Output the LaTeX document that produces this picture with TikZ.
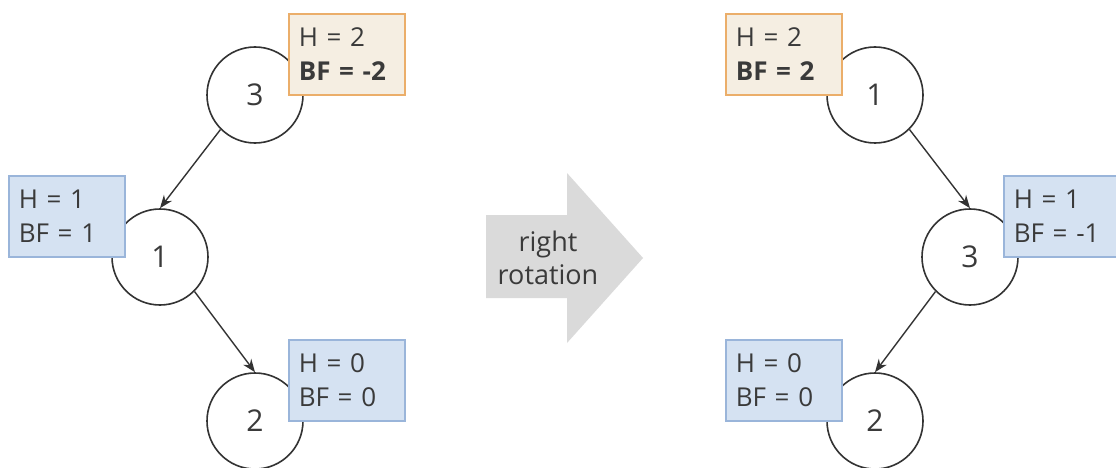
\documentclass[tikz,border=0pt]{standalone}
\usepackage{fontspec}
\setmainfont{Open Sans}
\usetikzlibrary{arrows.meta}
\definecolor{ink}{HTML}{333333}
\definecolor{txt}{HTML}{3A3A3A}
\definecolor{ofill}{HTML}{F5EEE2}
\definecolor{oline}{HTML}{EBAE6A}
\definecolor{bfill}{HTML}{D5E2F2}
\definecolor{bline}{HTML}{9AB5DA}
\definecolor{agray}{HTML}{DADADA}
\tikzset{
  treenode/.style={circle, draw=ink, line width=1.6pt, fill=white, minimum size=96pt, inner sep=0pt, text=txt, font=\fontsize{30}{36}\selectfont},
  infobox/.style={rectangle, line width=1.6pt, anchor=north west, minimum width=116pt, minimum height=81pt, text width=96pt, inner xsep=10pt, inner ysep=0pt, align=left, text=txt, font=\fontsize{26}{34}\selectfont},
  obox/.style={infobox, draw=oline, fill=ofill},
  bbox/.style={infobox, draw=bline, fill=bfill},
  edge/.style={draw=ink, line width=1.4pt, -{Stealth[length=13pt, width=10pt]}},
  lbl/.style={text=txt, align=center, font=\fontsize{27}{33}\selectfont}
}
\begin{document}
\begin{tikzpicture}[x=1pt, y=-1pt]
\useasboundingbox (0,0) rectangle (1116,468);
\fill[white] (0,0) rectangle (1116,468);
% left tree
\node[treenode] (L3) at (255,95) {3};
\node[treenode] (L1) at (160,257) {1};
\node[treenode] (L2) at (255,421) {2};
\draw[edge] (L3.south west) -- (L1.north);
\draw[edge] (L1.south east) -- (L2.north);
\node[obox] (LB3) at (288,13) {H = 2\\\textbf{BF = -2}};
\node[bbox] (LB1) at (8,175) {H = 1\\BF = 1};
\node[bbox] (LB2) at (288,339) {H = 0\\BF = 0};
% block arrow
\fill[agray] (486,215) -- (567,215) -- (567,173) -- (643,258) -- (567,343) -- (567,298) -- (486,298) -- cycle;
\node[lbl] (rot) at (548,258) {right\\rotation};
% right tree
\node[treenode] (R1) at (875,95) {1};
\node[treenode] (R3) at (970,257) {3};
\node[treenode] (R2) at (875,421) {2};
\draw[edge] (R1.south east) -- (R3.north);
\draw[edge] (R3.south west) -- (R2.north);
\node[obox] (RB1) at (725,13) {H = 2\\\textbf{BF = 2}};
\node[bbox] (RB3) at (1003,175) {H = 1\\BF = -1};
\node[bbox] (RB2) at (725,339) {H = 0\\BF = 0};
\end{tikzpicture}
\end{document}
